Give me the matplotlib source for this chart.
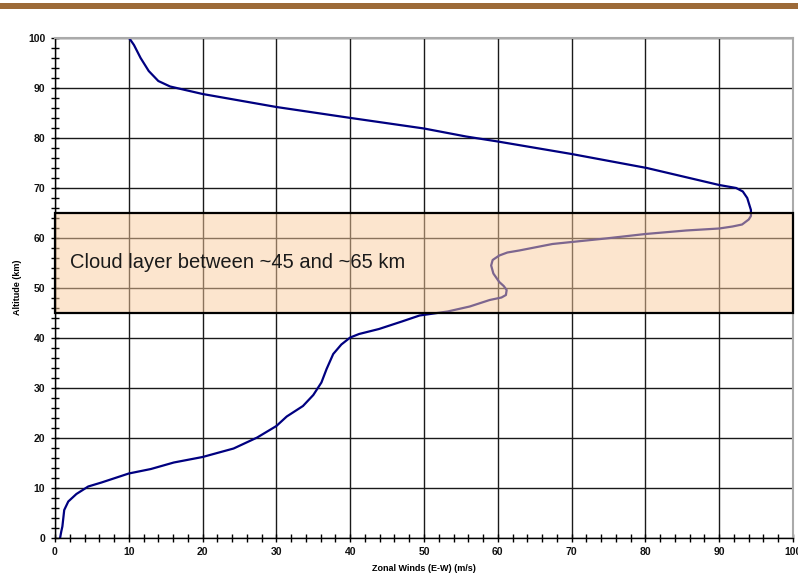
import matplotlib
matplotlib.use("Agg")
import matplotlib.pyplot as plt
from matplotlib.patches import Rectangle
from matplotlib.ticker import MultipleLocator

plt.rcParams['font.family'] = ['Liberation Sans', 'DejaVu Sans']

# zonal wind profile (m/s) vs altitude (km)
wind = [0.7, 0.85, 1.0, 1.25, 1.8, 2.9, 4.5, 6.3, 10.0, 13.0, 16.1, 20.0, 24.2,
        27.4, 30.0, 31.4, 33.6, 35.0, 36.1, 36.8, 37.7, 38.8, 40.0, 41.2, 43.9,
        47.0, 49.4, 53.2, 56.2, 58.9, 60.5, 61.1, 61.2, 60.8, 60.2, 59.4, 59.1,
        59.3, 60.2, 61.3, 62.9, 67.4, 70.0, 74.6, 80.0, 85.5, 90.0, 91.8, 93.1,
        94.0, 94.3, 94.3, 93.8, 93.2, 92.3, 90.0, 80.2, 70.0, 60.0, 55.7, 50.0,
        40.1, 30.0, 25.0, 20.0, 15.6, 14.0, 12.7, 11.6, 10.7, 10.0]
alt = [0.0, 1.2, 2.2, 5.5, 7.2, 8.7, 10.2, 11.0, 12.8, 13.7, 15.0, 16.1, 17.8,
       20.0, 22.3, 24.2, 26.3, 28.5, 31.0, 33.7, 36.7, 38.6, 40.0, 40.7, 41.7,
       43.2, 44.4, 45.2, 46.2, 47.5, 48.0, 48.5, 49.5, 50.3, 51.1, 52.8, 54.4,
       55.5, 56.4, 57.0, 57.4, 58.7, 59.1, 59.8, 60.7, 61.4, 61.8, 62.2, 62.6,
       63.6, 64.3, 65.5, 67.9, 69.2, 69.9, 70.5, 73.9, 76.7, 79.2, 80.2, 81.8,
       83.9, 86.1, 87.4, 88.7, 90.2, 91.3, 93.3, 95.9, 98.5, 100.0]

cloud_bottom = 45
cloud_top = 65
cloud_text = "Cloud layer between ~45 and ~65 km"

fig = plt.figure(figsize=(7.98, 5.77), dpi=100)
ax = fig.add_axes([55 / 798, 1 - 537.5 / 577, 738 / 798, 500 / 577])

# brown rule across the top of the slide
fig.patches.append(Rectangle((0, 1 - 8.5 / 577), 1, 5 / 577, transform=fig.transFigure,
                             facecolor='#9c6a38', edgecolor='none'))

ax.plot(wind, alt, color='#000080', lw=1.6, zorder=2, solid_joinstyle='round')

ax.add_patch(Rectangle((0, cloud_bottom), 100, cloud_top - cloud_bottom,
                       facecolor=(0.98, 0.80, 0.62, 0.5), edgecolor='black',
                       lw=1.6, zorder=3, clip_on=False))
ax.text(2, 55, cloud_text, fontsize=14.5, color='#1a1a1a', va='center', ha='left', zorder=4)

ax.set_xlim(0, 100)
ax.set_ylim(0, 100)
ax.xaxis.set_major_locator(MultipleLocator(10))
ax.yaxis.set_major_locator(MultipleLocator(10))
ax.xaxis.set_minor_locator(MultipleLocator(2))
ax.yaxis.set_minor_locator(MultipleLocator(2))
ax.grid(True, which='major', color='#1a1a1a', lw=1.0, zorder=1)
ax.set_axisbelow(True)

ax.tick_params(which='both', direction='inout', length=6, width=1, color='black')
ax.tick_params(which='major', labelsize=7.5, pad=4)
for lab in ax.get_xticklabels() + ax.get_yticklabels():
    lab.set_fontweight('bold')
    lab.set_color('#111111')

for s in ['left', 'bottom']:
    ax.spines[s].set_color('black')
    ax.spines[s].set_linewidth(1.0)
for s in ['top', 'right']:
    ax.spines[s].set_color('#aaaaaa')
    ax.spines[s].set_linewidth(1.5)

ax.set_xlabel("Zonal Winds (E-W) (m/s)", fontsize=6.5, fontweight='bold', labelpad=5)
ax.set_ylabel("Altitude (km)", fontsize=6.5, fontweight='bold', labelpad=4)

fig.savefig("out.png", dpi=100)
